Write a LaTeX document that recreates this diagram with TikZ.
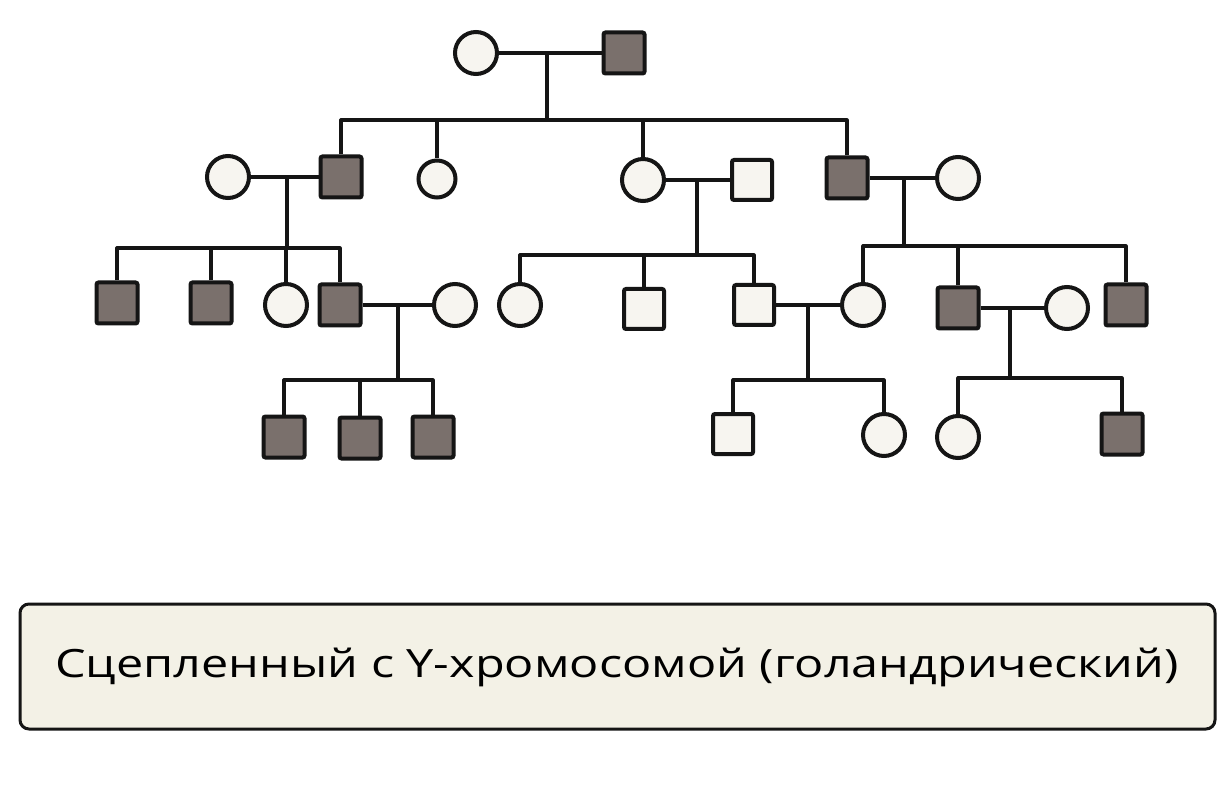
\documentclass[tikz,border=0pt]{standalone}
\usepackage{fontspec}
\newfontfamily\lblfont{Open Sans}
\definecolor{darkfill}{HTML}{7A706C}
\definecolor{lightfill}{HTML}{F7F5F0}
\definecolor{boxfill}{HTML}{F3F1E6}
\definecolor{inkc}{HTML}{151515}
\tikzset{
  person/.style={draw=inkc, line width=4pt, inner sep=0pt},
  fem/.style={person, circle, minimum size=42pt, fill=lightfill},
  femsmall/.style={person, circle, minimum size=37pt, fill=lightfill},
  malea/.style={person, rectangle, rounded corners=2pt, minimum size=41pt, fill=darkfill},
  maleu/.style={person, rectangle, rounded corners=2pt, minimum size=40pt, fill=lightfill},
  link/.style={draw=inkc, line width=3.2pt, line join=round},
  labelbox/.style={draw=inkc, line width=3pt, rounded corners=9pt, fill=boxfill}
}
\begin{document}
\begin{tikzpicture}[x=1pt,y=-1pt]
\useasboundingbox (0,0) rectangle (1232,786);
\fill[white] (0,0) rectangle (1232,786);

% Generation I
\node[fem]   (p1) at (476,53) {};
\node[malea] (p2) at (624,53) {};
% Generation II
\node[fem]      (a) at (228,177) {};
\node[malea]    (b) at (341,177) {};
\node[femsmall] (c) at (437,179) {};
\node[fem]      (d) at (643,180) {};
\node[maleu]    (e) at (752,180) {};
\node[malea]    (f) at (847,178) {};
\node[fem]      (g) at (958,178) {};
% Generation III
\node[malea] (h) at (117,303) {};
\node[malea] (i) at (211,303) {};
\node[fem]   (k) at (286,305) {};
\node[malea] (l) at (340,305) {};
\node[fem]   (m) at (455,305) {};
\node[fem]   (q) at (520,305) {};
\node[maleu] (r) at (644,309) {};
\node[maleu] (s) at (754,305) {};
\node[fem]   (t) at (863,305) {};
\node[malea] (w) at (958,308) {};
\node[fem]   (x) at (1067,308) {};
\node[malea] (y) at (1126,305) {};
% Generation IV
\node[malea] (n)  at (284,437) {};
\node[malea] (o)  at (360,438) {};
\node[malea] (p)  at (433,437) {};
\node[maleu] (u)  at (733,434) {};
\node[fem]   (v)  at (884,435) {};
\node[fem]   (z)  at (958,437) {};
\node[malea] (z2) at (1122,434) {};

% junctions and sibship points
\coordinate (j1) at (547,53);   \coordinate (s1) at (547,120);
\coordinate (j2) at (287,177);  \coordinate (s2) at (287,248);
\coordinate (j3) at (398,305);  \coordinate (s3) at (398,380);
\coordinate (j4) at (697,180);  \coordinate (s4) at (697,255);
\coordinate (j5) at (808,305);  \coordinate (s5) at (808,380);
\coordinate (j6) at (904,178);  \coordinate (s6) at (904,246);
\coordinate (j7) at (1010,308); \coordinate (s7) at (1010,378);

% marriage lines
\draw[link] (p1.east) -- (p2.west);
\draw[link] (a.east) -- (b.west);
\draw[link] (d.east) -- (e.west);
\draw[link] (f.east) -- (g.west);
\draw[link] (l.east) -- (m.west);
\draw[link] (s.east) -- (t.west);
\draw[link] (w.east) -- (x.west);

% descent lines
\draw[link] (j1) -- (s1);
\draw[link] (j2) -- (s2);
\draw[link] (j3) -- (s3);
\draw[link] (j4) -- (s4);
\draw[link] (j5) -- (s5);
\draw[link] (j6) -- (s6);
\draw[link] (j7) -- (s7);

% sibships
\foreach \ch in {b,c,d,f} \draw[link] (\ch.north) |- (s1);
\foreach \ch in {h,i,k,l} \draw[link] (\ch.north) |- (s2);
\foreach \ch in {n,o,p} \draw[link] (\ch.north) |- (s3);
\foreach \ch in {q,r,s} \draw[link] (\ch.north) |- (s4);
\foreach \ch in {u,v} \draw[link] (\ch.north) |- (s5);
\foreach \ch in {t,w,y} \draw[link] (\ch.north) |- (s6);
\foreach \ch in {z,z2} \draw[link] (\ch.north) |- (s7);

% caption
\draw[labelbox] (20,604) rectangle (1215,729);
\node (cap) at (617,667) {\scalebox{1.245}[1]{\fontsize{39pt}{45pt}\selectfont\lblfont Сцепленный с Y-хромосомой (голандрический)}};
\end{tikzpicture}
\end{document}
